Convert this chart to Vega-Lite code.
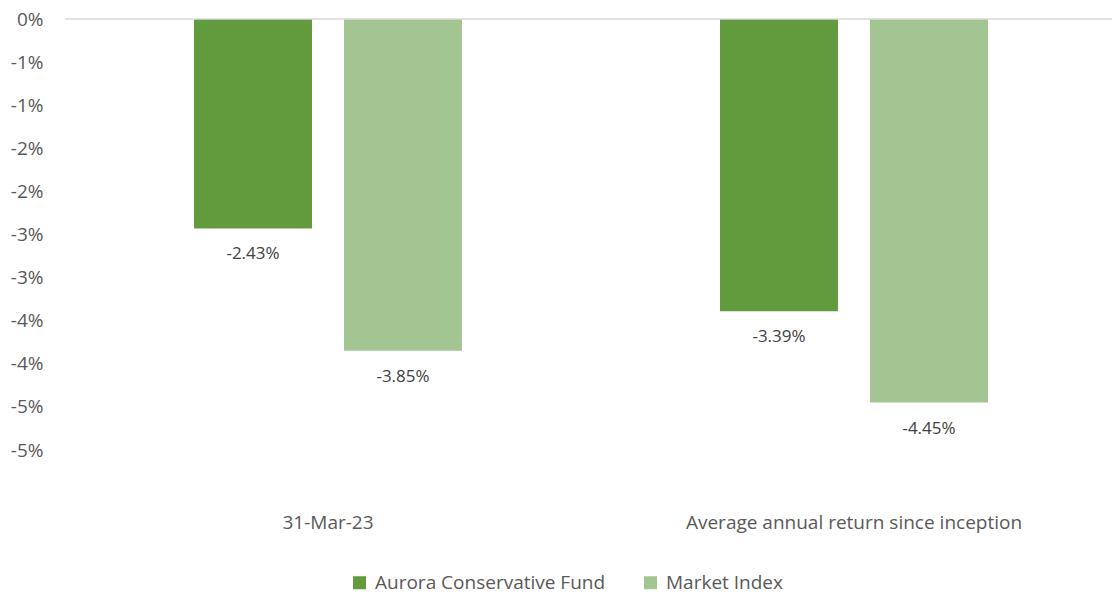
{
  "$schema": "https://vega.github.io/schema/vega-lite/v6.json",
  "width": 1052,
  "height": 431,
  "autosize": {"type": "none"},
  "padding": {"left": 65, "top": 19, "right": 0, "bottom": 144},
  "background": "white",
  "config": {
    "view": {"stroke": null},
    "font": "Open Sans",
    "locale": {"number": {"decimal": ".", "thousands": ",", "grouping": [3], "currency": ["$", ""], "minus": "-"}}
  },
  "data": {
    "values": [
      {"period": "31-Mar-23", "series": "Aurora Conservative Fund", "value": -0.0243},
      {"period": "31-Mar-23", "series": "Market Index", "value": -0.0385},
      {"period": "Average annual return since inception", "series": "Aurora Conservative Fund", "value": -0.0339},
      {"period": "Average annual return since inception", "series": "Market Index", "value": -0.0445}
    ]
  },
  "encoding": {
    "x": {
      "field": "period",
      "type": "nominal",
      "sort": null,
      "scale": {"paddingInner": 0.4905, "paddingOuter": 0.24525},
      "axis": {
        "title": null,
        "labelAngle": 0,
        "domain": false,
        "ticks": false,
        "labelPadding": 63,
        "labelFontSize": 19,
        "labelLimit": 0,
        "labelColor": "#595959",
        "labelFont": "Open Sans"
      }
    },
    "xOffset": {
      "field": "series",
      "type": "nominal",
      "sort": ["Aurora Conservative Fund", "Market Index"],
      "scale": {"paddingInner": 0.2133, "paddingOuter": 0}
    },
    "y": {
      "field": "value",
      "type": "quantitative",
      "scale": {"domain": [-0.05, 0], "nice": false, "zero": false},
      "axis": {
        "title": null,
        "values": [0, -0.005, -0.01, -0.015, -0.02, -0.025, -0.03, -0.035, -0.04, -0.045, -0.05],
        "labelExpr": "datum.value == 0 ? '0%' : '-' + round(abs(datum.value) * 100 + 0.001) + '%'",
        "grid": false,
        "domain": false,
        "ticks": false,
        "labelPadding": 22,
        "labelFontSize": 19,
        "labelColor": "#595959",
        "labelFont": "Open Sans"
      }
    }
  },
  "layer": [
    {
      "mark": {"type": "bar"},
      "encoding": {
        "color": {
          "field": "series",
          "type": "nominal",
          "sort": ["Aurora Conservative Fund", "Market Index"],
          "scale": {"domain": ["Aurora Conservative Fund", "Market Index"], "range": ["#629A3E", "#A3C591"]},
          "legend": {
            "title": null,
            "orient": "none",
            "legendX": 285,
            "legendY": 554,
            "direction": "horizontal",
            "symbolType": "square",
            "symbolSize": 169,
            "symbolStrokeWidth": 0,
            "labelFontSize": 19,
            "labelLimit": 0,
            "labelColor": "#595959",
            "labelFont": "Open Sans",
            "columnPadding": 35,
            "labelOffset": 6
          }
        }
      }
    },
    {
      "mark": {"type": "text", "baseline": "middle", "dy": 26, "fontSize": 17, "color": "#404040", "font": "Open Sans"},
      "encoding": {
        "text": {"field": "value", "type": "quantitative", "format": ".2%"}
      }
    },
    {
      "mark": {"type": "rule", "color": "#D9D9D9", "strokeWidth": 1.5},
      "data": {"values": [{"v": 0}]},
      "encoding": {"y": {"field": "v", "type": "quantitative"}, "x": null, "xOffset": null}
    }
  ]
}
